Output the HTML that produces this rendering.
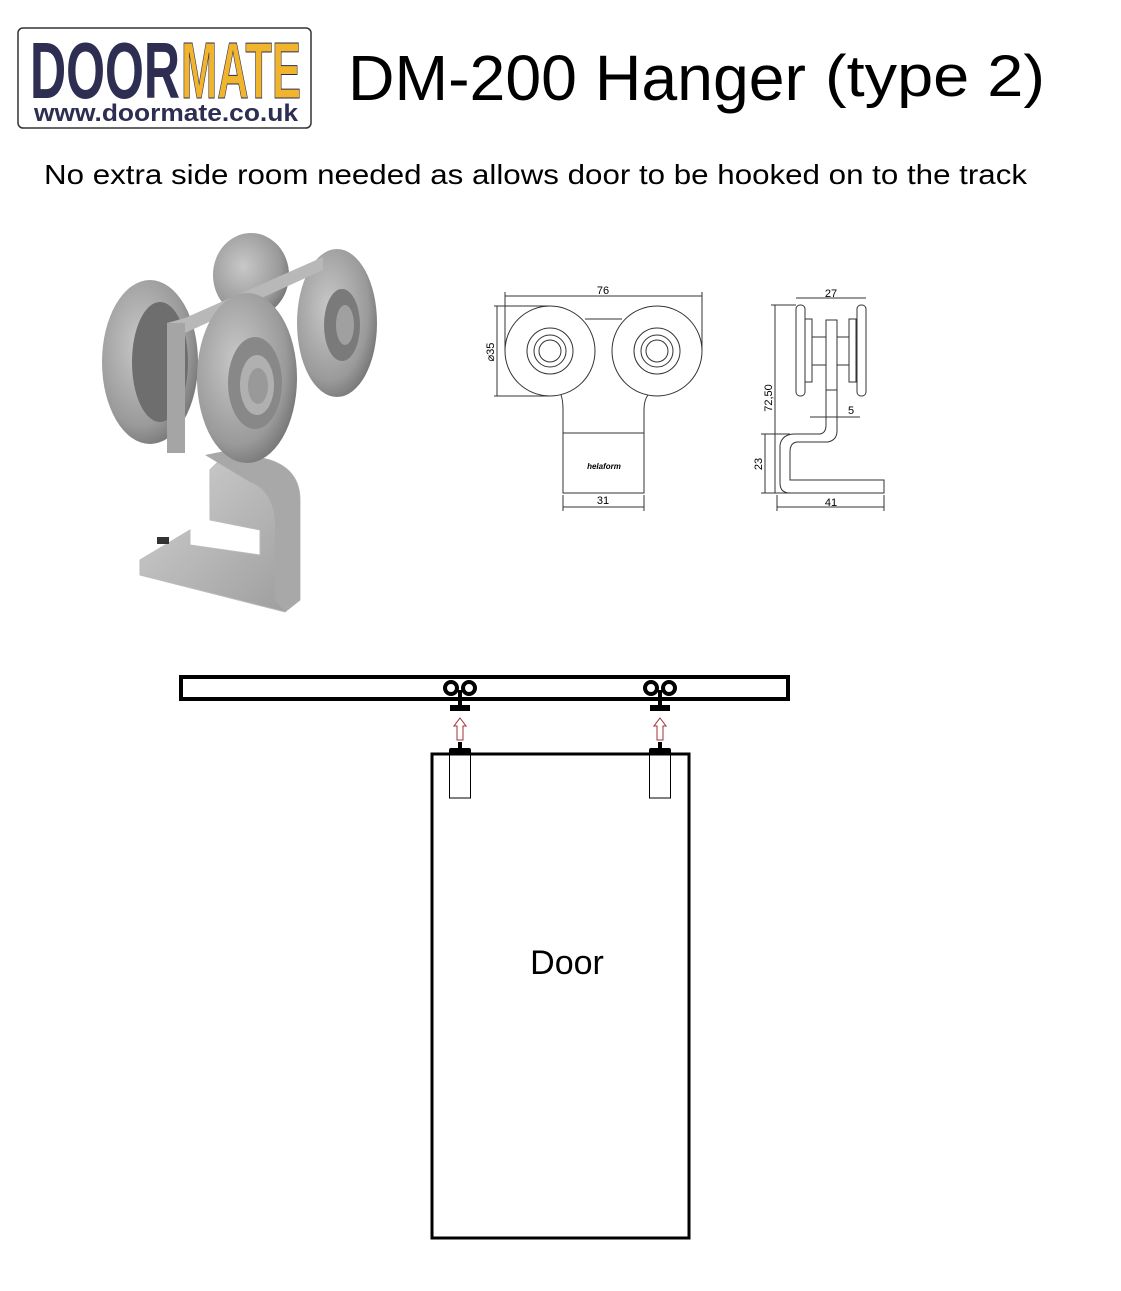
<!DOCTYPE html>
<html><head><meta charset="utf-8"><style>
html,body{margin:0;padding:0;background:#fff;}
svg{display:block;}
text{font-family:"Liberation Sans",Arial,sans-serif;}
</style></head><body>
<svg width="1121" height="1291" viewBox="0 0 1121 1291" xmlns="http://www.w3.org/2000/svg">
<defs>
<radialGradient id="wh" cx="0.4" cy="0.4" r="0.7"><stop offset="0" stop-color="#c8c8c8"/><stop offset="0.7" stop-color="#9a9a9a"/><stop offset="1" stop-color="#6a6a6a"/></radialGradient>
<linearGradient id="mt" x1="0" y1="0" x2="1" y2="1"><stop offset="0" stop-color="#d4d4d4"/><stop offset="1" stop-color="#9c9c9c"/></linearGradient>
</defs>
<!-- logo -->
<rect x="18" y="28" width="293" height="100" rx="5" fill="#fff" stroke="#333" stroke-width="1.5"/>
<text x="30" y="98" font-size="80" font-weight="bold" fill="#2e2d52" textLength="150" lengthAdjust="spacingAndGlyphs">DOOR</text>
<text x="181" y="98" font-size="80" font-weight="bold" fill="#f0b52c" stroke="#2e2d52" stroke-width="1" textLength="120" lengthAdjust="spacingAndGlyphs">MATE</text>
<text x="34" y="121" font-size="24" font-weight="bold" fill="#2e2d52" textLength="264" lengthAdjust="spacingAndGlyphs">www.doormate.co.uk</text>
<!-- title -->
<text x="348" y="100" font-size="64" textLength="458" lengthAdjust="spacingAndGlyphs">DM-200 Hanger</text>
<text x="825" y="96" font-size="58" textLength="220" lengthAdjust="spacingAndGlyphs">(type 2)</text>
<text x="44" y="184" font-size="28" textLength="983" lengthAdjust="spacingAndGlyphs">No extra side room needed as allows door to be hooked on to the track</text>

<!-- 3D render approximation -->
<g>
<path d="M140 560 L140 575 L285 612 L300 600 L300 500 Q300 470 270 460 L230 450 L210 470 L210 520 L260 530 L260 555 L190 545 L190 530 Z" fill="url(#mt)" stroke="#bbb"/>
<path d="M205 455 L230 450 L270 460 Q300 470 300 500 L300 600 L285 612 L275 600 L275 520 Q272 490 250 482 Z" fill="#a8a8a8"/>
<rect x="157" y="537" width="12" height="7" fill="#333"/>
<ellipse cx="251" cy="275" rx="38" ry="42" fill="url(#wh)"/>
<ellipse cx="150" cy="362" rx="48" ry="82" fill="url(#wh)"/>
<ellipse cx="160" cy="362" rx="28" ry="60" fill="#6e6e6e"/>
<ellipse cx="337" cy="323" rx="40" ry="74" fill="url(#wh)"/>
<ellipse cx="342" cy="325" rx="18" ry="36" fill="#7a7a7a"/>
<ellipse cx="345" cy="325" rx="9" ry="20" fill="#a0a0a0"/>
<polygon points="167,323 185,318 323,257 323,270 185,333 185,453 167,450" fill="#b8b8b8"/>
<rect x="167" y="323" width="18" height="130" fill="#a5a5a5"/>
<ellipse cx="247" cy="378" rx="50" ry="85" fill="url(#wh)"/>
<ellipse cx="255" cy="383" rx="27" ry="46" fill="#888"/>
<ellipse cx="257" cy="385" rx="17" ry="30" fill="#b0b0b0"/>
<ellipse cx="258" cy="386" rx="10" ry="18" fill="#999"/>
</g>

<!-- front view drawing -->
<g fill="none" stroke="#333" stroke-width="1">
<circle cx="550" cy="351" r="45"/>
<circle cx="550" cy="351" r="23"/><circle cx="550" cy="351" r="16"/><circle cx="550" cy="351" r="11"/>
<circle cx="657" cy="351" r="45"/>
<circle cx="657" cy="351" r="23"/><circle cx="657" cy="351" r="16"/><circle cx="657" cy="351" r="11"/>
<line x1="585" y1="319" x2="622" y2="319"/>
<path d="M561 395 Q563 400 563 410 L563 493 L644 493 L644 410 Q644 400 648 395"/>
<line x1="563" y1="433" x2="644" y2="433"/>
<line x1="505" y1="296" x2="702" y2="296"/><line x1="505" y1="292" x2="505" y2="350"/><line x1="702" y1="292" x2="702" y2="350"/>
<line x1="497" y1="306" x2="497" y2="396"/><line x1="494" y1="306" x2="550" y2="306"/><line x1="494" y1="396" x2="550" y2="396"/>
<line x1="563" y1="507" x2="644" y2="507"/><line x1="563" y1="495" x2="563" y2="511"/><line x1="644" y1="495" x2="644" y2="511"/>
</g>
<text x="603" y="294" font-size="11" text-anchor="middle">76</text>
<text x="603" y="504" font-size="11" text-anchor="middle">31</text>
<text x="494" y="352" font-size="11" text-anchor="middle" transform="rotate(-90 494 352)">⌀35</text>
<text x="604" y="469" font-size="8" font-style="italic" font-weight="bold" text-anchor="middle">helaform</text>

<!-- side view drawing -->
<g fill="none" stroke="#333" stroke-width="1">
<rect x="796" y="305" width="9" height="91" rx="4"/>
<rect x="857" y="305" width="9" height="91" rx="4"/>
<rect x="805" y="319" width="7" height="63"/><rect x="849" y="319" width="7" height="63"/>
<rect x="812" y="337" width="14" height="28"/><rect x="837" y="337" width="12" height="28"/>
<rect x="826" y="320" width="11" height="70"/>
<path d="M837 390 L837 431 Q837 440 828 442 L798 442 Q790 442 790 452 L790 480 L884 480 L884 493 L790 493 Q780 493 780 483 L780 445 Q782 434 795 434 L820 434 Q826 433 826 425 L826 390"/>
<line x1="796" y1="298" x2="866" y2="298"/>
<line x1="775" y1="305" x2="775" y2="493"/><line x1="771" y1="305" x2="796" y2="305"/>
<line x1="765" y1="434" x2="765" y2="493"/><line x1="761" y1="434" x2="790" y2="434"/><line x1="761" y1="493" x2="790" y2="493"/>
<line x1="777" y1="507" x2="884" y2="507"/><line x1="777" y1="495" x2="777" y2="511"/><line x1="884" y1="495" x2="884" y2="511"/>
<line x1="810" y1="417" x2="860" y2="417"/>
</g>
<text x="831" y="297" font-size="11" text-anchor="middle">27</text>
<text x="831" y="506" font-size="11" text-anchor="middle">41</text>
<text x="851" y="414" font-size="11" text-anchor="middle">5</text>
<text x="772" y="398" font-size="11" text-anchor="middle" transform="rotate(-90 772 398)">72,50</text>
<text x="762" y="464" font-size="11" text-anchor="middle" transform="rotate(-90 762 464)">23</text>

<!-- track -->
<rect x="181" y="677" width="607" height="22" fill="none" stroke="#000" stroke-width="4"/>
<!-- door -->
<rect x="432" y="754" width="257" height="484" fill="none" stroke="#000" stroke-width="3"/>
<!-- hangers -->
<g id="h1">
<circle cx="451" cy="688" r="6" fill="#fff" stroke="#000" stroke-width="4"/>
<circle cx="469" cy="688" r="6" fill="#fff" stroke="#000" stroke-width="4"/>
<rect x="458" y="690" width="4" height="16" fill="#000"/>
<rect x="450" y="705" width="20" height="6" fill="#000"/>
<path d="M460 718 L466 726 L463 726 L463 740 L457 740 L457 726 L454 726 Z" fill="#fff" stroke="#a03030" stroke-width="1"/>
<rect x="458" y="742" width="4" height="8" fill="#000"/>
<rect x="449" y="748" width="22" height="8" fill="#000" rx="2"/>
<rect x="449.5" y="755" width="21" height="43" fill="#fff" stroke="#000" stroke-width="1"/>
</g>
<use href="#h1" x="200"/>
<text x="567" y="974" font-size="34" text-anchor="middle">Door</text>
</svg>
</body></html>
